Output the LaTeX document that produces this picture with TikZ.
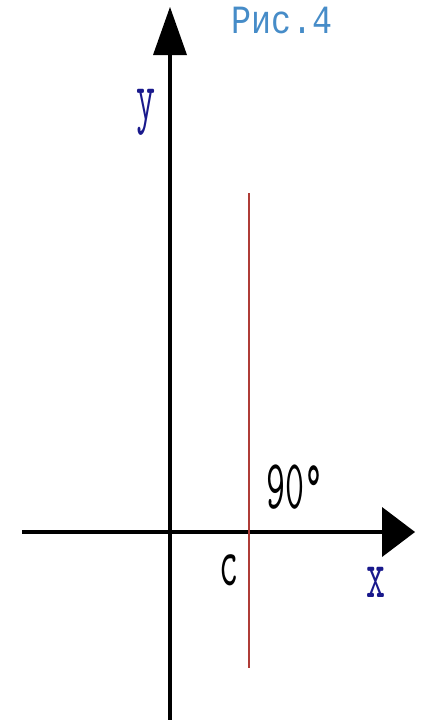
\documentclass[tikz,border=0pt]{standalone}
\usepackage{graphicx}
\usepackage{fontspec}
\newfontfamily\rusmono{Liberation Mono}
\definecolor{ristitle}{RGB}{70,140,200}
\definecolor{axislabel}{RGB}{25,25,140}
\definecolor{cutline}{RGB}{175,60,55}
\newcommand{\tallfont}[2][1.9]{\scalebox{1}[#1]{#2}}
\tikzset{
  lbl/.style={inner sep=0pt,anchor=base,font=\ttfamily\fontsize{21}{21}\selectfont},
  axis/.style={line width=2pt,black}
}
\begin{document}
\begin{tikzpicture}[x=0.02cm,y=-0.02cm]
\useasboundingbox (0,0) rectangle (428,720);
% axes
\draw[axis] (170,720)--(170,50);
\fill (170,7)--(153,55)--(187,55)--cycle;
\draw[axis] (22,532)--(386,532);
\fill (415,532)--(382,507)--(382,557)--cycle;
% vertical line through c
\draw[cutline,line width=1.1pt] (249,193)--(249,668);
\node[lbl,text=ristitle,font=\rusmono\fontsize{19}{19}\selectfont] (title) at (282,33) {\tallfont[1.2]{Рис.4}};
\node[lbl,text=axislabel] (ylbl) at (146,119) {\tallfont{y}};
\node[lbl,text=axislabel] (xlbl) at (376,597) {\tallfont{x}};
\node[lbl] (clbl) at (229,585) {\tallfont{c}};
\node[lbl,anchor=base west] (angle) at (266,508) {\tallfont{90°}};
\end{tikzpicture}
\end{document}
